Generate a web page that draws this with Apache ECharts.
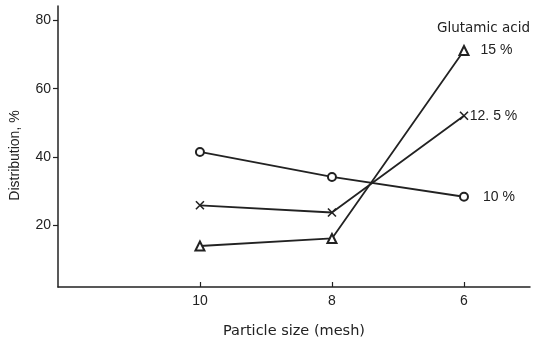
<!DOCTYPE html>
<html>
<head>
<meta charset="utf-8">
<script src="https://cdn.jsdelivr.net/npm/echarts@6/dist/echarts.min.js"></script>
<style>
  html, body { margin: 0; padding: 0; background: #fff; }
  #main { width: 533px; height: 344px; }
</style>
</head>
<body>
<div id="main"></div>
<script>
// mesh sizes on the x axis (read right to left: 10, 8, 6)
const meshSizes = [10, 8, 6];
const yTicks = [20, 40, 60, 80];

// distribution (%) per glutamic acid level
const acid10 = [41.5, 34.2, 28.4];
const acid125 = [25.9, 23.8, 52.1];
const acid15 = [14.0, 16.2, 71.2];

const ink = "#222";
const font = "Liberation Sans";

// last point carries the series label
function pts(vals, labelText, gap) {
  return meshSizes.map(function (m, i) {
    if (i === meshSizes.length - 1) {
      return {
        value: [m, vals[i]],
        label: {
          show: true,
          position: "right",
          distance: gap,
          formatter: labelText,
          color: ink,
          fontFamily: font,
          fontSize: 14,
        },
      };
    }
    return [m, vals[i]];
  });
}

function makeSeries(name, vals, symbol, size, fill, labelText, gap) {
  return {
    name: name,
    type: "line",
    data: pts(vals, labelText, gap),
    symbol: symbol,
    symbolSize: size,
    showAllSymbol: true,
    lineStyle: { color: ink, width: 1.8 },
    itemStyle: { color: fill, borderColor: ink, borderWidth: 1.6 },
    label: { show: false },
    animation: false,
  };
}

var chartDom = document.getElementById("main");
var myChart = echarts.init(chartDom);
var option;

option = {
  backgroundColor: "#fff",
  title: {
    text: "Glutamic acid",
    left: 437,
    top: 21,
    padding: 0,
    textStyle: {
      color: ink,
      fontFamily: "DejaVu Sans",
      fontSize: 13.5,
      fontWeight: "normal",
    },
  },
  grid: { left: 55, right: 3, top: 6, bottom: 51 },
  xAxis: {
    type: "value",
    inverse: true,
    min: 5,
    max: 12.15,
    name: "Particle size (mesh)",
    nameLocation: "middle",
    nameGap: 37,
    nameTextStyle: { color: ink, fontFamily: "DejaVu Sans", fontSize: 14.5 },
    axisLine: { lineStyle: { color: ink, width: 1.5 } },
    axisTick: {
      inside: true,
      length: 5,
      customValues: meshSizes,
      lineStyle: { color: ink, width: 1.2 },
    },
    axisLabel: {
      customValues: meshSizes,
      color: ink,
      fontFamily: font,
      fontSize: 14,
      margin: 7,
    },
    splitLine: { show: false },
  },
  yAxis: {
    type: "value",
    min: 2,
    max: 84.2,
    name: "Distribution, %",
    nameLocation: "middle",
    nameRotate: 90,
    nameGap: 36,
    nameTextStyle: {
      color: ink,
      fontFamily: font,
      fontSize: 14,
      padding: [0, 18, 0, 0],
    },
    axisLine: { show: true, lineStyle: { color: ink, width: 1.5 } },
    axisTick: {
      show: true,
      length: 5,
      customValues: yTicks,
      lineStyle: { color: ink, width: 1.2 },
    },
    axisLabel: {
      customValues: yTicks,
      color: ink,
      fontFamily: font,
      fontSize: 14,
      margin: 7,
    },
    splitLine: { show: false },
  },
  series: [
    makeSeries("10 %", acid10, "emptyCircle", 8, ink, "10 %", 14),
    makeSeries("12.5 %", acid125, "path://M0,0L10,10M10,0L0,10", 8, "#fff", "12. 5 %", 1),
    makeSeries("15 %", acid15, "emptyTriangle", 9, ink, "15 %", 11),
  ],
};

option && myChart.setOption(option);
</script>
</body>
</html>
